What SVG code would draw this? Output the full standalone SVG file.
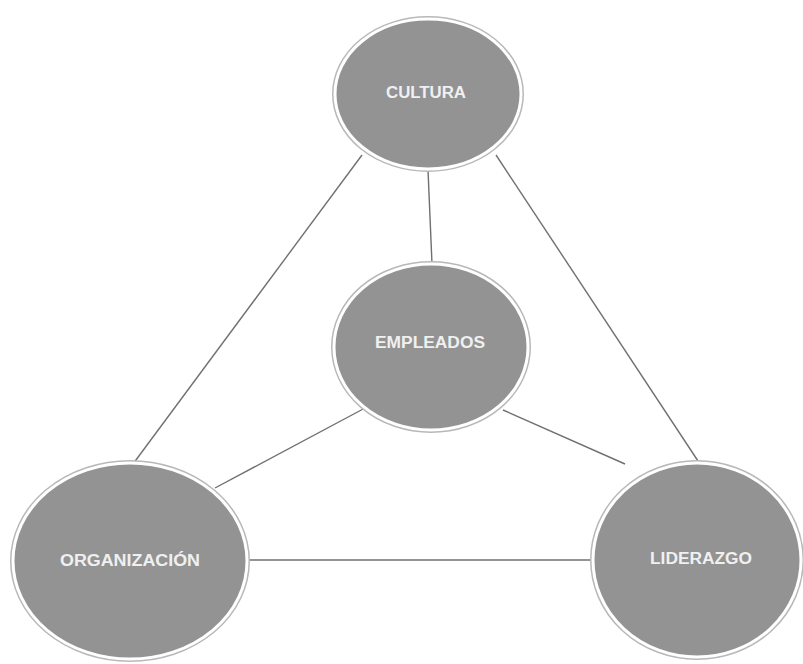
<svg xmlns="http://www.w3.org/2000/svg" width="803" height="664" viewBox="0 0 803 664">
<style>
.ring{fill:none;stroke:#b8b8b8;stroke-width:6}
.body{fill:#939393;stroke:#ffffff;stroke-width:3}
.lbl{font-family:"Liberation Sans",Arial,sans-serif;font-size:16px;font-weight:bold;fill:#f0f0f0;text-anchor:middle;dominant-baseline:central}
.edge{stroke:#707070;stroke-width:1.4;fill:none}
</style>
<rect width="803" height="664" fill="#ffffff"/>
<g id="connectors">
<line class="edge" x1="362" y1="155" x2="133" y2="464"/>
<line class="edge" x1="496" y1="155" x2="700" y2="464"/>
<line class="edge" x1="428" y1="170" x2="432" y2="264"/>
<line class="edge" x1="365" y1="408" x2="215" y2="488"/>
<line class="edge" x1="503" y1="410" x2="625" y2="464"/>
<line class="edge" x1="248" y1="560" x2="592" y2="560"/>
</g>
<g id="cultura">
<ellipse class="ring" cx="428" cy="94" rx="93" ry="75"/>
<ellipse class="body" cx="428" cy="94" rx="93" ry="75"/>
<text class="lbl" x="426" y="92" textLength="80" lengthAdjust="spacingAndGlyphs">CULTURA</text>
</g>
<g id="empleados">
<ellipse class="ring" cx="431" cy="347" rx="97" ry="83"/>
<ellipse class="body" cx="431" cy="347" rx="97" ry="83"/>
<text class="lbl" x="430" y="342" textLength="110" lengthAdjust="spacingAndGlyphs">EMPLEADOS</text>
</g>
<g id="organizacion">
<ellipse class="ring" cx="130" cy="561" rx="117" ry="98"/>
<ellipse class="body" cx="130" cy="561" rx="117" ry="98"/>
<text class="lbl" x="130" y="560" textLength="140" lengthAdjust="spacingAndGlyphs">ORGANIZACIÓN</text>
</g>
<g id="liderazgo">
<ellipse class="ring" cx="697" cy="560" rx="104" ry="97"/>
<ellipse class="body" cx="697" cy="560" rx="104" ry="97"/>
<text class="lbl" x="701" y="558" textLength="102" lengthAdjust="spacingAndGlyphs">LIDERAZGO</text>
</g>
</svg>
